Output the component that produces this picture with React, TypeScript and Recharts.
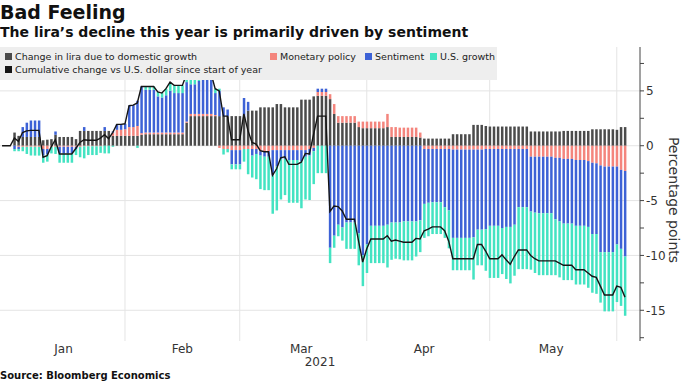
import { ComposedChart, Bar, Line, XAxis, YAxis, CartesianGrid } from "recharts";

const monthNames = ["Jan", "Feb", "Mar", "Apr", "May", "Jun"];
const monthTicks = ["Jan 17", "Feb 15", "Mar 16", "Apr 15", "May 16"];
const monthTickLabels = ["Jan", "Feb", "Mar", "Apr", "May"];
const monthStarts = ["Feb 1", "Mar 1", "Apr 1", "May 1", "Jun 1"];
const yTicks = [-17.5, -15, -12.5, -10, -7.5, -5, -2.5, 0, 2.5, 5, 7.5];
const gridValues = [5, 0, -5, -10, -15];

// daily values from Jan 2, 2021, percentage points
const domesticGrowth = [
  0, 0, 0, 1.2, 0.9, 0.8, 0.8, 0.8, 0.8, 0.8,
  0.5, 0.55, 0.6, 1.0, 0.8, 0.8, 0.8, 0.8, 0.6, 1.35,
  1.35, 1.35, 1.35, 1.35, 1.35, 1.35, 1.35, 0.9, 0.9, 0.9,
  0.9, 0.9, 0.9, 0.9, 1.0, 1.05, 1.05, 1.05, 1.05, 1.05,
  1.05, 1.05, 1.05, 1.05, 1.05, 2.1, 2.7, 2.7, 2.7, 2.7,
  2.7, 2.7, 2.7, 2.7, 2.7, 2.7, 2.7, 2.7, 2.7, 2.6,
  3.2, 3.2, 3.2, 3.5, 3.5, 3.5, 3.5, 3.8, 3.8, 3.5,
  3.5, 3.5, 3.5, 4.2, 4.2, 4.2, 4.5, 4.55, 4.55, 4.55,
  4.25, 2.9, 2.1, 2.1, 2.1, 2.1, 2.1, 1.7, 1.6, 1.6,
  1.6, 1.6, 1.6, 1.6, 1.7, 0.8, 0.8, 0.8, 0.8, 0.8,
  0.8, 0.8, 0.75, 0.65, 0.65, 0.65, 0.65, 0.65, 0.65, 0.65,
  1.05, 1.05, 1.05, 1.05, 1.05, 1.9, 1.9, 1.9, 1.8, 1.75,
  1.75, 1.75, 1.75, 1.75, 1.75, 1.75, 1.75, 1.75, 1.75, 1.3,
  1.3, 1.3, 1.3, 1.3, 1.3, 1.3, 1.3, 1.35, 1.35, 1.35,
  1.35, 1.35, 1.35, 1.35, 1.5, 1.5, 1.5, 1.5, 1.5, 1.5,
  1.45, 1.7, 1.7,
];

const monetaryPolicy = [
  0, 0, 0, 0, -0.1, -0.1, -0.1, -0.1, -0.1, -0.1,
  -0.3, -0.3, -0.1, -0.1, -0.1, -0.1, -0.1, -0.1, -0.1, -0.1,
  -0.05, -0.05, -0.05, -0.05, -0.05, 0, 0, 0.3, 0.55, 0.55,
  0.6, 0.8, 0.8, 0.9, 0.15, 0.15, 0.15, 0.15, 0.15, 0.15,
  0.15, 0.15, 0.15, 0.15, 0.15, 0.1, 0.2, 0.2, 0.2, 0.2,
  0.2, 0.2, 0.1, -0.2, -0.3, -0.3, -0.4, -0.4, -0.4, -0.3,
  -0.3, -0.3, -0.3, -0.5, -0.5, -0.5, -0.4, -0.4, -0.4, -0.4,
  -0.4, -0.4, -0.4, -0.4, -0.4, -0.3, -0.2, 0.35, 0.35, 0.35,
  0.45, 0.9, 0.6, 0.6, 0.6, 0.6, 0.6, 0.5, 0.6, 0.6,
  0.6, 0.6, 0.6, 0.6, 1.2, 0.9, 0.9, 0.85, 0.85, 0.85,
  0.85, 0.85, 0.45, -0.3, -0.3, -0.3, -0.3, -0.3, -0.3, -0.3,
  -0.35, -0.35, -0.35, -0.35, -0.35, -0.35, -0.35, -0.35, -0.3, -0.3,
  -0.3, -0.3, -0.3, -0.3, -0.3, -0.3, -0.3, -0.3, -0.3, -1.0,
  -1.0, -1.0, -1.0, -1.0, -1.0, -1.1, -1.1, -1.2, -1.2, -1.2,
  -1.3, -1.3, -1.3, -1.4, -1.55, -1.6, -1.8, -1.9, -1.9, -1.9,
  -1.9, -2.2, -2.3,
];

const sentiment = [
  0, 0, 0, -0.3, -0.2, 0.9, 1.3, 1.5, 1.5, 1.5,
  -0.6, -0.5, 0, 0.3, -0.6, -0.6, -0.6, -0.6, -0.2, 0,
  0.35, 0, 0, 0, 0, 0.35, 0, 0.1, 0.5, 0.5,
  0.5, 1.95, 2.0, 2.3, 4.25, 3.9, 3.9, 3.9, 3.3, 3.2,
  3.4, 3.8, 3.6, 3.6, 3.6, 3.6, 2.7, 2.7, 3.0, 3.1,
  3.1, 3.2, 2.0, 2.3, 0.8, 0.6, -1.3, -1.3, -1.3, 1.75,
  0.8, -0.6, -0.45, -0.4, -0.5, -0.5, -2.3, -1.5, -0.8, -0.8,
  -0.9, -0.9, -0.9, -1.0, -0.6, -0.6, -0.3, 0.3, 0.3, 0.3,
  -9.3, -8.2, -7.2, -7.45, -7.0, -7.0, -7.0, -8.0, -10.0, -9.0,
  -7.3, -7.3, -7.3, -7.3, -7.2, -7.0, -7.0, -7.0, -6.9, -6.9,
  -6.9, -6.9, -6.8, -5.0, -4.9, -4.85, -4.85, -4.85, -5.3, -5.6,
  -8.05, -8.05, -8.05, -8.05, -8.05, -8.0, -7.3, -7.3, -7.3, -7.0,
  -7.0, -7.0, -7.2, -7.1, -7.1, -6.9, -5.3, -5.3, -5.3, -5.0,
  -5.1, -5.15, -5.15, -5.15, -5.15, -5.6, -5.8, -5.9, -5.9, -5.9,
  -6.0, -6.0, -6.0, -6.0, -6.5, -6.45, -7.9, -7.8, -7.8, -7.8,
  -7.1, -7.2, -7.8,
];

const usGrowth = [
  0, 0, 0, -0.2, -0.2, -0.4, -0.65, -0.8, -0.8, -0.8,
  -0.65, -0.65, -0.6, -0.65, -0.85, -0.85, -0.85, -0.85, -0.55, -0.95,
  -1.1, -0.8, -0.8, -0.8, -0.6, -0.7, -0.7, -0.1, 0, 0,
  0, 0, 0, -0.2, 0, 0.3, 0.3, 0.3, 0.4, 0.4,
  0.6, 0.8, 0.7, 0.7, 0.7, 0.7, 0.5, 0.5, 0.5, 0.5,
  0.5, 0.5, 0.4, 0.2, -0.5, -0.3, -0.45, -0.45, -0.45, -1.15,
  -2.3, -2.0, -2.3, -3.05, -3.05, -3.05, -3.5, -4.0, -3.7, -3.3,
  -3.9, -3.9, -3.9, -4.3, -3.9, -4.05, -3.0, -2.5, -2.5, -2.5,
  -1.4, -1.1, -1.05, -1.2, -2.4, -2.4, -2.4, -2.9, -2.8, -2.6,
  -3.4, -3.4, -3.4, -3.4, -3.9, -3.4, -3.3, -3.35, -3.55, -3.55,
  -3.55, -3.2, -2.9, -3.1, -3.05, -2.9, -2.9, -2.9, -2.8, -3.45,
  -2.95, -2.95, -2.95, -2.95, -2.95, -3.85, -3.25, -3.25, -3.8, -4.75,
  -4.75, -4.75, -4.2, -4.75, -5.15, -4.65, -5.65, -5.65, -5.65, -5.3,
  -5.5, -5.65, -5.65, -5.65, -5.65, -5.1, -5.1, -5.15, -5.15, -5.15,
  -5.35, -5.35, -5.35, -5.55, -5.35, -5.45, -4.6, -5.4, -5.4, -5.4,
  -5.25, -5.2, -5.4,
];

const cumulative = [
  0, 0, 0, 0.7, 0.4, 1.2, 1.35, 1.4, 1.4, 1.4,
  -1.05, -0.9, -0.1, 0.55, -0.75, -0.75, -0.75, -0.75, -0.25, 0.3,
  0.55, 0.5, 0.5, 0.5, 0.7, 1.0, 0.65, 1.2, 1.95, 1.95,
  2.0, 3.65, 3.7, 3.9, 5.4, 5.4, 5.4, 5.4, 4.9, 4.8,
  5.2, 5.8, 5.5, 5.5, 5.5, 6.5, 6.1, 6.1, 6.4, 6.5,
  6.5, 6.6, 5.2, 5.0, 2.7, 2.7, 0.55, 0.55, 0.55, 2.9,
  1.4, 0.3, 0.15, -0.45, -0.55, -0.55, -2.7, -2.1, -1.1, -1.0,
  -1.7, -1.7, -1.7, -1.5, -0.7, -0.75, 1.0, 2.7, 2.7, 2.7,
  -6.0, -5.5, -5.55, -5.95, -6.7, -6.7, -6.7, -8.7, -10.6, -9.4,
  -8.5, -8.5, -8.5, -8.5, -8.2, -8.7, -8.6, -8.7, -8.8, -8.8,
  -8.8, -8.45, -8.5, -7.75, -7.6, -7.4, -7.4, -7.4, -7.75, -8.7,
  -10.3, -10.3, -10.3, -10.3, -10.3, -10.3, -9.0, -9.0, -9.6, -10.3,
  -10.3, -10.3, -9.95, -10.4, -10.8, -10.1, -9.5, -9.5, -9.5, -10.0,
  -10.3, -10.5, -10.5, -10.5, -10.5, -10.5, -10.7, -10.9, -10.9, -10.9,
  -11.3, -11.3, -11.3, -11.6, -11.9, -12.0, -12.8, -13.6, -13.6, -13.6,
  -12.8, -12.9, -13.8,
];

const COLORS = {
  domestic: "#4b4b4b",
  monetary: "#f4857d",
  sentiment: "#3d62d6",
  us: "#43e3c2",
  line: "#151515",
};

const FONT = '"DejaVu Sans", sans-serif';

const START = Date.UTC(2021, 0, 1);
const data = domesticGrowth.map((g, i) => {
  const d = new Date(START + (i + 1) * 86400000);
  return {
    date: `${monthNames[d.getUTCMonth()]} ${d.getUTCDate()}`,
    domestic: g,
    monetary: monetaryPolicy[i],
    sentiment: sentiment[i],
    us: usGrowth[i],
    cumulative: cumulative[i],
  };
});

function LegendItem({ color, label, left, top }: { color: string; label: string; left: number; top: number }) {
  return (
    <div style={{ position: "absolute", left, top, display: "flex", alignItems: "center", whiteSpace: "nowrap" }}>
      <span style={{ width: 7, height: 7, background: color, marginRight: 3, display: "inline-block" }} />
      <span>{label}</span>
    </div>
  );
}

export default function App() {
  return (
    <div style={{ position: "absolute", left: 0, top: 0, width: 683, height: 384, background: "#fff", fontFamily: FONT, color: "#222" }}>
      <ComposedChart
        width={683}
        height={384}
        data={data}
        stackOffset="sign"
        margin={{ top: 47, right: 0, bottom: 0, left: 0 }}
      >
        <CartesianGrid
          stroke="#e4e4e4"
          horizontalValues={gridValues}
          verticalValues={monthStarts}
        />
        <XAxis
          dataKey="date"
          height={43}
          padding={{ left: 0, right: 13 }}
          ticks={monthTicks}
          interval={0}
          tickFormatter={(v) => monthTickLabels[monthTicks.indexOf(v)] ?? ""}
          tick={{ fontSize: 12, fill: "#333", fontFamily: FONT }}
          tickLine={false}
          axisLine={false}
          tickSize={0}
          tickMargin={3}
        />
        <YAxis
          orientation="right"
          width={43}
          domain={[-17.8, 9]}
          ticks={yTicks}
          interval={0}
          allowDataOverflow
          tickFormatter={(v) => (v % 5 === 0 ? String(v) : "")}
          tick={{ fontSize: 12, fill: "#333", fontFamily: FONT, textAnchor: "start" }}
          axisLine={{ stroke: "#444" }}
          tickLine={{ stroke: "#444" }}
          tickSize={4}
          tickMargin={2}
        />
        <Bar dataKey="domestic" stackId="a" fill={COLORS.domestic} barSize={2.5} isAnimationActive={false} />
        <Bar dataKey="monetary" stackId="a" fill={COLORS.monetary} barSize={2.5} isAnimationActive={false} />
        <Bar dataKey="sentiment" stackId="a" fill={COLORS.sentiment} barSize={2.5} isAnimationActive={false} />
        <Bar dataKey="us" stackId="a" fill={COLORS.us} barSize={2.5} isAnimationActive={false} />
        <Line
          dataKey="cumulative"
          type="linear"
          stroke={COLORS.line}
          strokeWidth={1.4}
          dot={false}
          isAnimationActive={false}
        />
      </ComposedChart>

      <div style={{ position: "absolute", left: 0, top: 1, fontSize: 19, fontWeight: 700, color: "#111" }}>Bad Feeling</div>
      <div style={{ position: "absolute", left: 0, top: 24, fontSize: 14, fontWeight: 700, color: "#111", whiteSpace: "nowrap" }}>
        The lira’s decline this year is primarily driven by sentiment
      </div>

      <div style={{ position: "absolute", left: 0, top: 47, width: 497, height: 33, background: "#eeeeee", fontSize: 9.5, color: "#222" }}>
        <LegendItem color={COLORS.domestic} label="Change in lira due to domestic growth" left={5} top={4} />
        <LegendItem color={COLORS.line} label="Cumulative change vs U.S. dollar since start of year" left={5} top={17} />
        <LegendItem color={COLORS.monetary} label="Monetary policy" left={270} top={4} />
        <LegendItem color={COLORS.sentiment} label="Sentiment" left={365} top={4} />
        <LegendItem color={COLORS.us} label="U.S. growth" left={430} top={4} />
      </div>

      <div style={{ position: "absolute", left: 320, top: 355, transform: "translateX(-50%)", fontSize: 12, color: "#333" }}>2021</div>

      <div
        style={{
          position: "absolute",
          left: 674,
          top: 200,
          transform: "translate(-50%, -50%) rotate(90deg)",
          fontSize: 14,
          color: "#333",
          whiteSpace: "nowrap",
        }}
      >
        Percentage points
      </div>

      <div style={{ position: "absolute", left: 0, top: 370, fontSize: 10, fontWeight: 700, color: "#111" }}>
        Source: Bloomberg Economics
      </div>
    </div>
  );
}
